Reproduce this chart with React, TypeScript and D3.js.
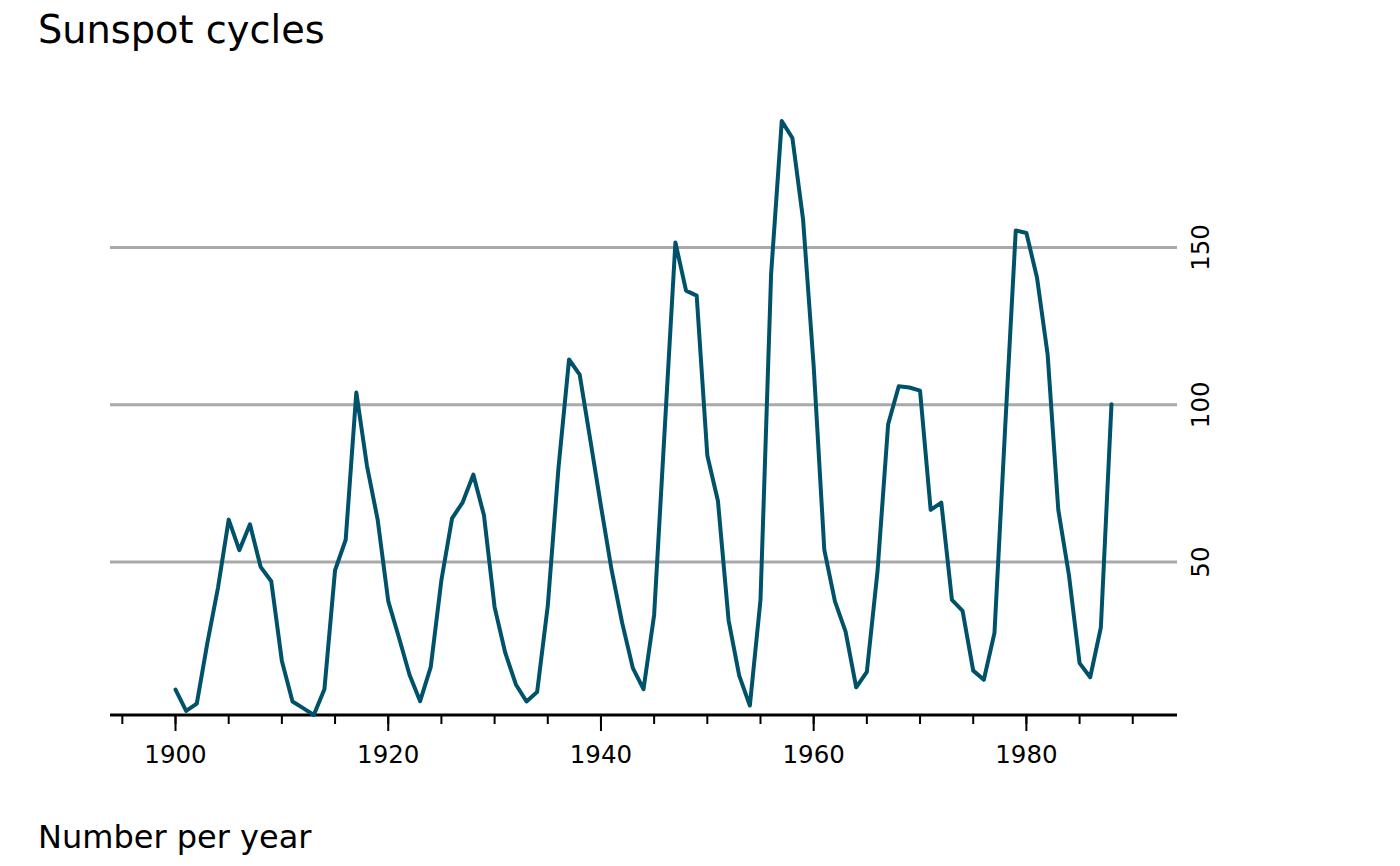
import React from "react";
import * as d3 from "d3";

const years: number[] = d3.range(1900, 1989);
const sunspots: number[] = [
  9.5, 2.7, 5.0, 24.4, 42.0, 63.5, 53.8, 62.0, 48.5, 43.9,
  18.6, 5.7, 3.6, 1.4, 9.6, 47.4, 57.1, 103.9, 80.6, 63.6,
  37.6, 26.1, 14.2, 5.8, 16.7, 44.3, 63.9, 69.0, 77.8, 64.9,
  35.7, 21.2, 11.1, 5.7, 8.7, 36.1, 79.7, 114.4, 109.6, 88.8,
  67.8, 47.5, 30.6, 16.3, 9.6, 33.2, 92.6, 151.6, 136.3, 134.7,
  83.9, 69.4, 31.5, 13.9, 4.4, 38.0, 141.7, 190.2, 184.8, 159.0,
  112.3, 53.9, 37.5, 27.9, 10.2, 15.1, 47.0, 93.8, 105.9, 105.5,
  104.5, 66.6, 68.9, 38.0, 34.5, 15.5, 12.6, 27.5, 92.5, 155.4,
  154.6, 140.4, 115.9, 66.6, 45.9, 17.9, 13.4, 29.2, 100.2,
];
const yTicks: number[] = [50, 100, 150];
const xMinorTicks: number[] = d3.range(1895, 1991, 5);
const xMajorTicks: number[] = [1900, 1920, 1940, 1960, 1980];
const title = "Sunspot cycles";
const caption = "Number per year";

export default function App() {
  const left = 110, right = 1177, top = 121, bottom = 715;
  const x0 = d3.min(years)!, x1 = d3.max(years)!;
  const pad = (x1 - x0) * 0.07;
  const x = d3.scaleLinear().domain([x0 - pad, x1 + pad]).range([left, right]);
  const y = d3
    .scaleLinear()
    .domain(d3.extent(sunspots) as [number, number])
    .range([bottom, top]);
  const data = years.map((yr, i) => [yr, sunspots[i]] as [number, number]);
  const line = d3
    .line<[number, number]>()
    .x((d) => x(d[0]))
    .y((d) => y(d[1]));
  const font = "'DejaVu Sans', sans-serif";
  return (
    <svg
      width={1400}
      height={866}
      style={{ position: "absolute", left: 0, top: 0, background: "#fff" }}
      fontFamily={font}
    >
      <text x={38} y={43} fontSize={38.3} fill="#000">
        {title}
      </text>
      {yTicks.map((t) => (
        <g key={t}>
          <line x1={left} x2={right} y1={y(t)} y2={y(t)} stroke="#a9a9a9" strokeWidth={3} />
          <text
            transform={`translate(${1209},${y(t)}) rotate(-90)`}
            textAnchor="middle"
            fontSize={24.5}
            fill="#000"
          >
            {t}
          </text>
        </g>
      ))}
      <line x1={left} x2={right} y1={bottom} y2={bottom} stroke="#000" strokeWidth={3} />
      {xMinorTicks.map((t) => (
        <line key={"m" + t} x1={x(t)} x2={x(t)} y1={bottom} y2={bottom + 9} stroke="#000" strokeWidth={2} />
      ))}
      {xMajorTicks.map((t) => (
        <g key={t}>
          <line x1={x(t)} x2={x(t)} y1={bottom} y2={bottom + 16} stroke="#000" strokeWidth={2} />
          <text x={x(t)} y={763} textAnchor="middle" fontSize={24.5} fill="#000">
            {t}
          </text>
        </g>
      ))}
      <path
        d={line(data)!}
        fill="none"
        stroke="#00526b"
        strokeWidth={4}
        strokeLinejoin="round"
        strokeLinecap="round"
      />
      <text x={38} y={848} fontSize={32} fill="#000">
        {caption}
      </text>
    </svg>
  );
}
